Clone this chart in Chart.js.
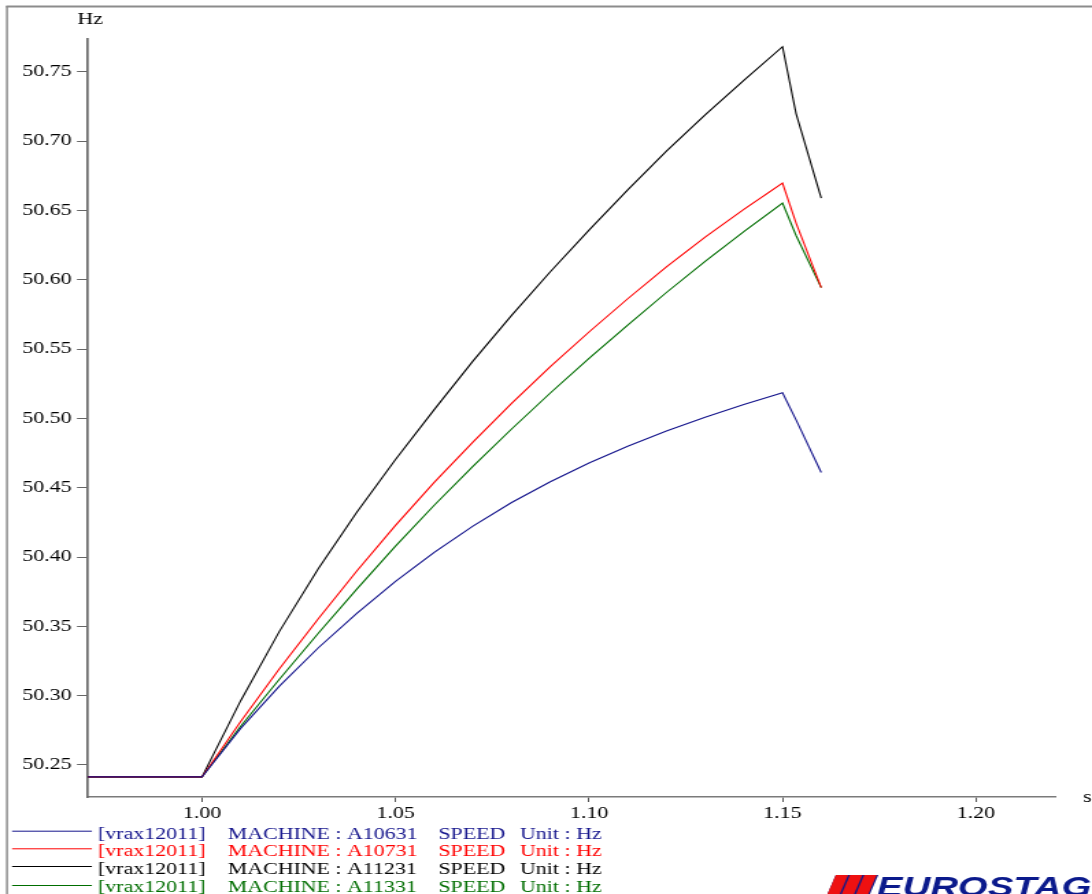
<!DOCTYPE html>
<html><head><meta charset="utf-8">
<script src="https://cdn.jsdelivr.net/npm/chart.js@4.4.1/dist/chart.umd.min.js"></script>
<style>
html,body{margin:0;padding:0;overflow:hidden;background:#fff;width:1092px;height:894px}
#c{display:block;transform-origin:0 0;transform:scaleX(1.370138)}
</style></head><body>
<canvas id="c" width="797" height="894"></canvas>
<script>
// ---- data (time in s, speed in Hz) ----
const times = [0.97, 1.00, 1.01, 1.02, 1.03, 1.04, 1.05, 1.06, 1.07, 1.08, 1.09, 1.10, 1.11, 1.12, 1.13, 1.14, 1.15, 1.1535, 1.16];
const speedA10631 = [50.2414, 50.2414, 50.2764, 50.3069, 50.3344, 50.3594, 50.3824, 50.4034, 50.4224, 50.4394, 50.4544, 50.4679, 50.4799, 50.4909, 50.5009, 50.5101, 50.5186, 50.4990, 50.4610];
const speedA10731 = [50.2414, 50.2414, 50.2814, 50.3194, 50.3554, 50.3899, 50.4229, 50.4539, 50.4829, 50.5109, 50.5374, 50.5624, 50.5864, 50.6094, 50.6309, 50.6509, 50.6699, 50.6410, 50.5944];
const speedA11231 = [50.2414, 50.2414, 50.2964, 50.3464, 50.3914, 50.4324, 50.4704, 50.5064, 50.5414, 50.5744, 50.6059, 50.6359, 50.6649, 50.6929, 50.7190, 50.7440, 50.7682, 50.7200, 50.6590];
const speedA11331 = [50.2414, 50.2414, 50.2779, 50.3119, 50.3449, 50.3769, 50.4079, 50.4374, 50.4654, 50.4924, 50.5184, 50.5434, 50.5674, 50.5909, 50.6134, 50.6349, 50.6554, 50.6320, 50.5944];
const xTickValues = [1.00, 1.05, 1.10, 1.15, 1.20];
const yTickValues = [50.25, 50.30, 50.35, 50.40, 50.45, 50.50, 50.55, 50.60, 50.65, 50.70, 50.75];
const machines = ['A10631', 'A10731', 'A11231', 'A11331'];
const seriesColors = ['#15158c', '#ff0000', '#000000', '#006e00'];
const legendTag = '[vrax12011]';
const quantity = 'SPEED';
const unitText = 'Unit : Hz';
const yUnit = 'Hz';
const xUnit = 's';
const logoText = 'EUROSTAG';

const allSeries = [speedA10631, speedA10731, speedA11231, speedA11331];
const SERIF = "'Liberation Serif', 'Times New Roman', serif";

const decor = {
  id: 'decor',
  afterDraw(chart) {
    const c = chart.ctx;
    c.save();
    // frame
    c.strokeStyle = '#8c8c8c';
    c.lineWidth = 2;
    c.beginPath(); c.moveTo(4.4, 6.5); c.lineTo(797, 6.5); c.stroke();
    c.lineWidth = 1.5;
    c.beginPath(); c.moveTo(5.1, 6); c.lineTo(5.1, 894); c.stroke();
    // axis units
    c.fillStyle = '#000';
    c.font = '16px ' + SERIF;
    c.textBaseline = 'alphabetic';
    c.textAlign = 'left';
    c.fillText(yUnit, 56.5, 23.5);
    c.fillText(xUnit, 790.5, 802);
    // legend
    const rowsLine = [830.7, 848.3, 866, 885];
    const rowsBase = [838.5, 856.3, 874, 891.8];
    for (let i = 0; i < machines.length; i++) {
      c.strokeStyle = seriesColors[i];
      c.lineWidth = 1;
      c.beginPath(); c.moveTo(8.8, rowsLine[i] + 0.5); c.lineTo(67.1, rowsLine[i] + 0.5); c.stroke();
      c.fillStyle = seriesColors[i];
      c.fillText(legendTag, 71.5, rowsBase[i]);
      c.fillText('MACHINE : ' + machines[i], 166.2, rowsBase[i]);
      c.fillText(quantity, 319.9, rowsBase[i]);
      c.fillText(unitText, 379.5, rowsBase[i]);
    }
    // logo
    const top = 875, bot = 900, sl = 0.32;
    c.fillStyle = '#0b1a8c';
    c.beginPath();
    c.moveTo(610, top); c.lineTo(641, top); c.lineTo(641 - (bot - top) * sl, bot); c.lineTo(610 - (bot - top) * sl, bot); c.closePath();
    c.fill();
    c.fillStyle = '#ee1111';
    for (let k = 0; k < 3; k++) {
      const x0 = 610 + k * 10.4;
      c.beginPath();
      c.moveTo(x0, top); c.lineTo(x0 + 9.0, top);
      c.lineTo(x0 + 9.0 - (bot - top) * sl, bot); c.lineTo(x0 - (bot - top) * sl, bot);
      c.closePath(); c.fill();
    }
    c.fillStyle = '#0b1a8c';
    c.font = 'italic bold 28px "Liberation Sans", Arial, sans-serif';
    c.fillText(logoText, 640, 896);
    c.restore();
  }
};

new Chart(document.getElementById('c'), {
  type: 'line',
  data: {
    datasets: allSeries.map((arr, i) => ({
      label: legendTag + ' MACHINE : ' + machines[i] + ' ' + quantity,
      data: times.map((t, j) => ({ x: t, y: arr[j] })),
      borderColor: seriesColors[i],
      backgroundColor: seriesColors[i],
      borderWidth: 1.1,
      pointRadius: 0,
      tension: 0,
      fill: false
    }))
  },
  options: {
    responsive: false,
    animation: false,
    devicePixelRatio: 1,
    layout: { padding: { left: 0, right: 27, top: 39, bottom: 0 } },
    plugins: { legend: { display: false }, tooltip: { enabled: false } },
    scales: {
      x: {
        type: 'linear', min: 0.97054, max: 1.22041,
        afterBuildTicks: s => { s.ticks = xTickValues.map(v => ({ value: v })); },
        afterFit: s => { s.height = 97; },
        ticks: { callback: v => Number(v).toFixed(2), font: { family: SERIF, size: 16 }, color: '#000', padding: 2, maxRotation: 0, autoSkip: false },
        grid: { display: true, drawOnChartArea: false, drawTicks: true, tickLength: 5, color: '#555', lineWidth: 1 },
        border: { display: true, color: '#7a7a7a', width: 1.5 }
      },
      y: {
        type: 'linear', min: 50.2269, max: 50.7738,
        afterBuildTicks: s => { s.ticks = yTickValues.map(v => ({ value: v })); },
        afterFit: s => { s.width = 64.2; },
        ticks: { callback: v => Number(v).toFixed(2), font: { family: SERIF, size: 16 }, color: '#000', padding: 4, autoSkip: false },
        grid: { display: true, drawOnChartArea: false, drawTicks: true, tickLength: 8, color: '#666', lineWidth: 1 },
        border: { display: true, color: '#6a6a6a', width: 1.7 }
      }
    }
  },
  plugins: [decor]
});
</script>
</body></html>
